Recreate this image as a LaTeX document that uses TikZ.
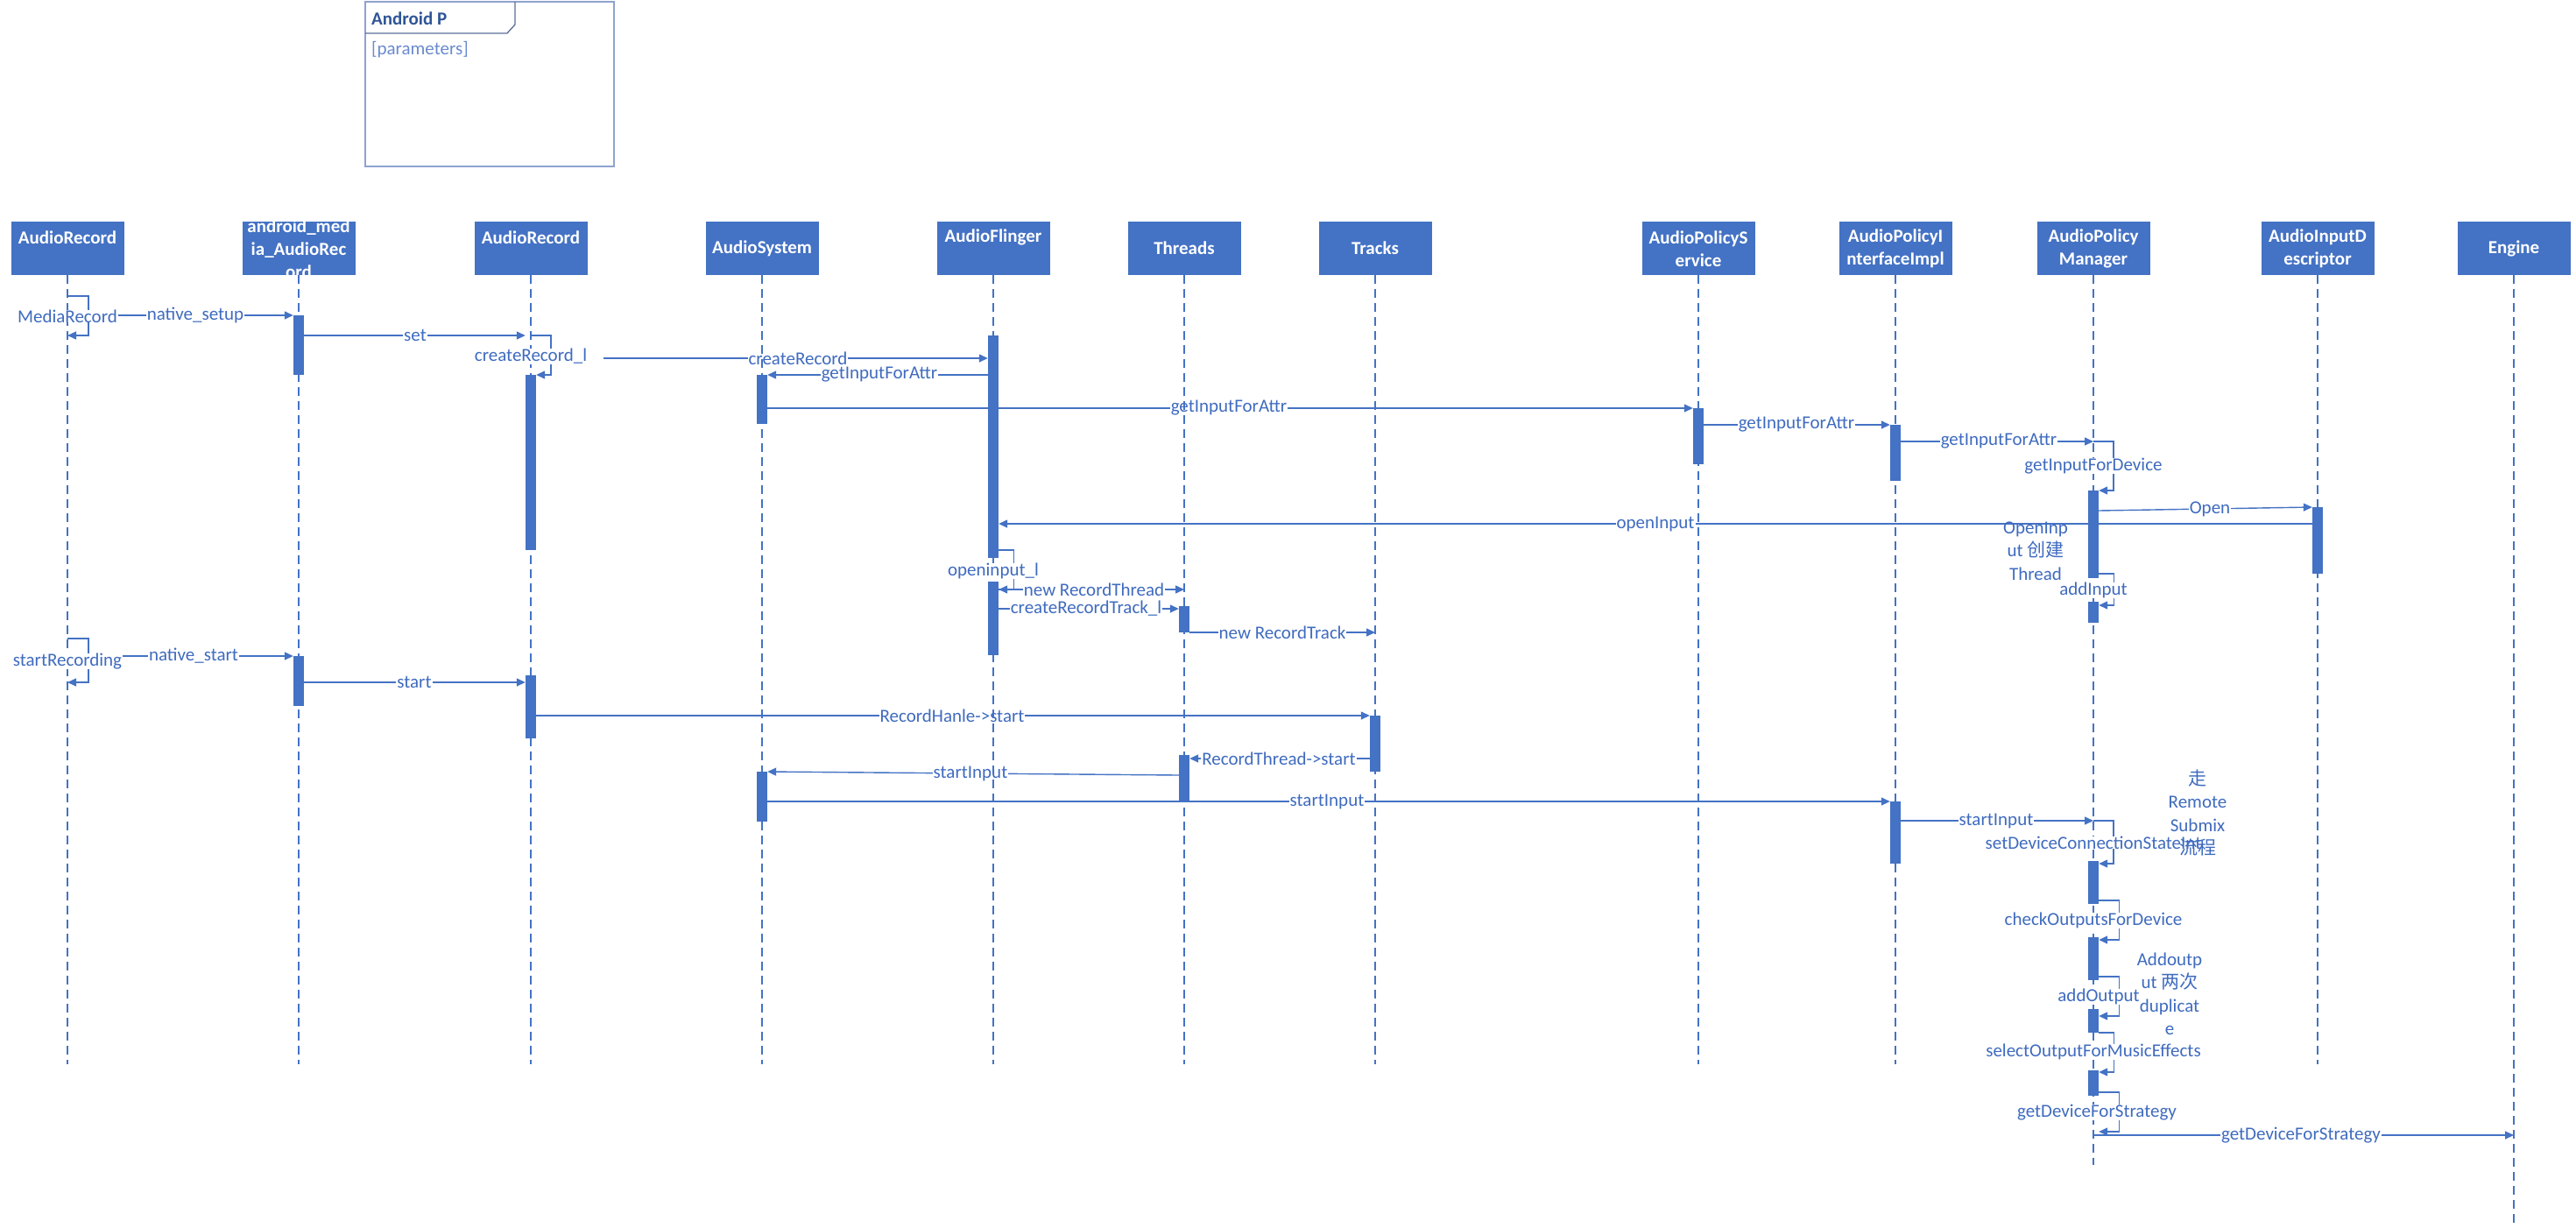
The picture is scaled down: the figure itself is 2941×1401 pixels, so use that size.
\documentclass[tikz,border=0pt]{standalone}
\usepackage{fontspec}
\setmainfont{Carlito}
\newfontfamily\cjk{Noto Sans CJK SC}
\usetikzlibrary{arrows.meta}
\definecolor{vblue}{HTML}{4472C4}
\definecolor{tblue}{HTML}{3F6BBF}
\definecolor{framec}{HTML}{8EA3CF}
\definecolor{tabc}{HTML}{5B6F99}
\definecolor{titlec}{HTML}{2F5597}
\definecolor{parc}{HTML}{6A8BCF}
\newcommand\actbar[4]{\node[actb, minimum height=#4pt] (#1) at (#2,#3) {};}
\begin{document}
\begin{tikzpicture}[x=1pt,y=-1pt,
  hdr/.style={draw=none, fill=vblue, minimum width=129pt, minimum height=61pt, inner sep=0pt},
  hdrtxt/.style={text=white, font=\bfseries\fontsize{21}{26}\selectfont, align=center, inner sep=0pt},
  life/.style={vblue, line width=1.4pt, dash pattern=on 10pt off 6pt},
  actb/.style={fill=vblue, draw=none, minimum width=12pt, inner sep=0pt},
  msg/.style={vblue, line width=1.4pt, -{Triangle[length=10pt,width=9pt]}},
  lbl/.style={text=tblue, font=\fontsize{21}{26.5}\selectfont, fill=white, inner xsep=1pt, inner ysep=0pt},
  note/.style={text=tblue, font=\fontsize{21}{26.5}\selectfont, align=center, inner sep=0pt}]
\useasboundingbox[fill=white] (0,0) rectangle (2941,1401);

% frame
\draw[framec, line width=1.4pt] (417,2) rectangle (701,190);
\draw[tabc, line width=1.3pt] (417,38) -- (579,38) -- (588,28) -- (588,2);
\node[anchor=west, inner sep=0pt, text=titlec, font=\bfseries\fontsize{21}{26}\selectfont] (ftitle) at (424,21) {Android P};
\node[anchor=west, inner sep=0pt, text=parc, font=\fontsize{21}{26}\selectfont] (fpar) at (424,57) {[parameters]};

% header boxes
\node[hdr] (h1) at (77,283.5) {};
\node[hdr] (h2) at (341,283.5) {};
\node[hdr] (h3) at (606,283.5) {};
\node[hdr] (h4) at (870,283.5) {};
\node[hdr] (h5) at (1134,283.5) {};
\node[hdr] (h6) at (1352,283.5) {};
\node[hdr] (h7) at (1570,283.5) {};
\node[hdr] (h8) at (1939,283.5) {};
\node[hdr] (h9) at (2164,283.5) {};
\node[hdr] (h10) at (2390,283.5) {};
\node[hdr] (h11) at (2646,283.5) {};
\node[hdr] (h12) at (2870,283.5) {};
\node[hdrtxt] (t1) at (77,271) {AudioRecord};
\node[hdrtxt] (t2) at (341,284) {android\_med\\ia\_AudioRec\\ord};
\node[hdrtxt] (t3) at (606,271) {AudioRecord};
\node[hdrtxt] (t4) at (870,284) {AudioSystem};
\node[hdrtxt] (t5) at (1134,271) {AudioFlinger};
\node[hdrtxt] (t6) at (1352,283) {Threads};
\node[hdrtxt] (t7) at (1570,283) {Tracks};
\node[hdrtxt] (t8) at (1939,284) {AudioPolicyS\\ervice};
\node[hdrtxt] (t9) at (2164,284) {AudioPolicyI\\nterfaceImpl};
\node[hdrtxt] (t10) at (2390,284) {AudioPolicy\\Manager};
\node[hdrtxt] (t11) at (2646,284) {AudioInputD\\escriptor};
\node[hdrtxt] (t12) at (2870,284) {Engine};

% activation bars (named here, filled later)
\begin{scope}[opacity=0]
\actbar{b2a}{341}{394}{68}
\actbar{b3a}{606}{528}{200}
\actbar{b4a}{870}{456}{56}
\actbar{b5a}{1134}{510}{254}
\actbar{b8a}{1939}{498}{64}
\actbar{b9a}{2164}{517}{64}
\actbar{b10a}{2390}{610}{100}
\actbar{b11a}{2646}{617}{76}
\actbar{b10b}{2390}{699}{24}
\actbar{b5b}{1134}{706}{84}
\actbar{b6a}{1352}{707}{30}
\actbar{b2b}{341}{777.5}{57}
\actbar{b3b}{606}{807}{72}
\actbar{b7a}{1570}{849}{64}
\actbar{b6b}{1352}{888.5}{53}
\actbar{b4b}{870}{909.5}{57}
\actbar{b9b}{2164}{950.5}{71}
\actbar{b10c}{2390}{1007.5}{49}
\actbar{b10d}{2390}{1094.5}{49}
\actbar{b10e}{2390}{1165.5}{27}
\actbar{b10f}{2390}{1236.5}{29}
\end{scope}

% messages between lifelines
\coordinate (c5) at (689,409);
\draw[msg] (h1.south |- 0,360) ++(24,0) coordinate (s1) -- (b2a.west |- 0,360);
\draw[msg] (b2a.east |- 0,383) -- (b3a.west |- 0,383);
\draw[msg] (c5) -- (b5a.west |- c5);
\draw[msg] (b5a.west |- 0,428) -- (b4a.east |- 0,428);
\draw[msg] (b4a.east |- 0,466) -- (b8a.west |- 0,466);
\draw[msg] (b8a.east |- 0,485) -- (b9a.west |- 0,485);
\draw[msg] (b9a.east |- 0,504) -- (h10.south |- 0,504);
\draw[msg] (b10a.east |- 0,583) -- (b11a.west |- 0,579);
\draw[msg] (b11a.west |- 0,598) -- (b5a.east |- 0,598);
\draw[msg] (b5b.east |- 0,673) -- (h6.south |- 0,673);
\draw[msg] (b5b.east |- 0,695) -- (b6a.west |- 0,695);
\draw[msg] (b6a.east |- 0,722) -- (h7.south |- 0,722);
\draw[msg] (h1.south |- 0,749) ++(24,0) coordinate (s2) -- (b2b.west |- 0,749);
\draw[msg] (b2b.east |- 0,779) -- (b3b.west |- 0,779);
\draw[msg] (b3b.east |- 0,817) -- (b7a.west |- 0,817);
\draw[msg] (b7a.west |- 0,866) -- (b6b.east |- 0,866);
\draw[msg] (b6b.west |- 0,885) -- (b4b.east |- 0,881);
\draw[msg] (b4b.east |- 0,915) -- (b9b.west |- 0,915);
\draw[msg] (b9b.east |- 0,937) -- (h10.south |- 0,937);
\draw[msg] (h10.south |- 0,1296) -- (h12.south |- 0,1296);

% message labels
\node[lbl] (l2) at (223,360) {native\_setup};
\node[lbl] (l3) at (474,383) {set};
\node[lbl] (l5) at (911,409) {createRecord};
\node[lbl] (l6) at (1004,428) {getInputForAttr};
\node[lbl] (l7) at (1403,466) {getInputForAttr};
\node[lbl] (l8) at (2051,485) {getInputForAttr};
\node[lbl] (l9) at (2282,504) {getInputForAttr};
\node[lbl] (l11) at (2523,581) {Open};
\node[lbl] (l12) at (1890,598) {openInput};
\node[lbl] (l15) at (1249,673) {new RecordThread};
\node[lbl] (l16) at (1240,695) {createRecordTrack\_l};
\node[lbl] (l17) at (1464,722) {new RecordTrack};
\node[lbl] (l19) at (221,749) {native\_start};
\node[lbl] (l20) at (473,779) {start};
\node[lbl] (l21) at (1087,817) {RecordHanle->start};
\node[lbl] (l22) at (1460,866) {RecordThread->start};
\node[lbl] (l23) at (1108,883) {startInput};
\node[lbl] (l24) at (1515,915) {startInput};
\node[lbl] (l25) at (2279,937) {startInput};
\node[lbl] (l31) at (2627,1296) {getDeviceForStrategy};

% lifelines
\draw[life] (h1.south) -- (h1.south |- 0,1215);
\draw[life] (h2.south) -- (h2.south |- 0,1215);
\draw[life] (h3.south) -- (h3.south |- 0,1215);
\draw[life] (h4.south) -- (h4.south |- 0,1215);
\draw[life] (h5.south) -- (h5.south |- 0,1215);
\draw[life] (h6.south) -- (h6.south |- 0,1215);
\draw[life] (h7.south) -- (h7.south |- 0,1215);
\draw[life] (h8.south) -- (h8.south |- 0,1215);
\draw[life] (h9.south) -- (h9.south |- 0,1215);
\draw[life] (h10.south) -- (h10.south |- 0,1330);
\draw[life] (h11.south) -- (h11.south |- 0,1215);
\draw[life] (h12.south) -- (h12.south |- 0,1398);

% visible activation bars
\foreach \b in {b2a,b3a,b4a,b5a,b8a,b9a,b10a,b11a,b10b,b5b,b6a,b2b,b3b,b7a,b6b,b4b,b9b,b10c,b10d,b10e,b10f}
  \fill[vblue] (\b.north west) rectangle (\b.south east);

% self calls
\draw[msg] (h1.south |- 0,338) -- ++(24,0) -- ++(0,45) -- (h1.south |- 0,383);
\draw[msg] (h3.south |- 0,383) -- ++(23,0) -- ++(0,45) -- (b3a.east |- 0,428);
\draw[msg] (h10.south |- 0,504) -- ++(23,0) -- ++(0,56) -- (b10a.east |- 0,560);
\draw[msg] (b10a.east |- 0,655) -- ++(17,0) -- ++(0,36) -- (b10b.east |- 0,691);
\draw[msg] (b5a.east |- 0,628) -- ++(17,0) -- ++(0,45) -- (b5b.east |- 0,673);
\draw[msg] (h1.south |- 0,729) -- ++(24,0) -- ++(0,50) -- (h1.south |- 0,779);
\draw[msg] (h10.south |- 0,937) -- ++(23,0) -- ++(0,49) -- (b10c.east |- 0,986);
\draw[msg] (b10c.east |- 0,1028) -- ++(23,0) -- ++(0,45) -- (b10d.east |- 0,1073);
\draw[msg] (b10d.east |- 0,1115) -- ++(23,0) -- ++(0,45) -- (b10e.east |- 0,1160);
\draw[msg] (b10e.east |- 0,1179) -- ++(17,0) -- ++(0,45) -- (b10f.east |- 0,1224);
\draw[msg] (b10f.east |- 0,1247) -- ++(23,0) -- ++(0,45) -- (b10f.east |- 0,1292);

% self-call labels
\node[lbl] (l1) at (77,361) {MediaRecord};
\node[lbl] (l4) at (606,407) {createRecord\_l};
\node[lbl] (l10) at (2390,532) {getInputForDevice};
\node[lbl] (l13) at (2390,674) {addInput};
\node[lbl] (l14) at (1134,652) {openinput\_l};
\node[lbl] (l18) at (77,755) {startRecording};
\node[lbl] (l26) at (2390,962) {setDeviceConnectionStateInt};
\node[lbl] (l27) at (2390,1051) {checkOutputsForDevice};
\node[lbl] (l28) at (2396,1138) {addOutput};
\node[lbl] (l29) at (2390,1201) {selectOutputForMusicEffects};
\node[lbl] (l30) at (2394,1270) {getDeviceForStrategy};

% notes
\node[note] (n1) at (2324,629) {OpenInp\\ut {\cjk 创建}\\Thread};
\node[note] (n2) at (2509,928) {{\cjk 走}\\Remote\\Submix\\{\cjk 流程}};
\node[note] (n3) at (2477,1135) {Addoutp\\ut {\cjk 两次}\\duplicat\\e};
\end{tikzpicture}
\end{document}
